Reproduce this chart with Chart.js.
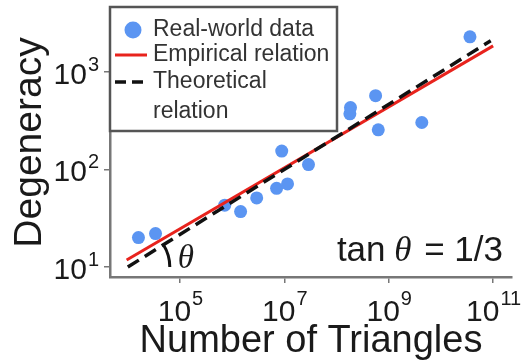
<!DOCTYPE html>
<html>
<head>
<meta charset="utf-8">
<script src="https://cdn.jsdelivr.net/npm/chart.js@4.4.1/dist/chart.umd.min.js"></script>
<style>
  body { margin: 0; background: #fff; }
  #wrap { width: 525px; height: 364px; }
</style>
</head>
<body>
<div id="wrap"><canvas id="chart" width="525" height="364"></canvas></div>
<script>
'use strict';

// values
let triangles = [1.6e4, 3.4e4, 7.2e5, 1.45e6, 2.95e6, 7.1e6, 1.15e7, 8.9e6, 2.9e7, 1.8e8, 1.85e8, 5.6e8, 6.3e8, 4.3e9, 3.6e10];
let degeneracy = [20, 22, 43, 37, 51, 64, 71, 154, 112, 371, 430, 569, 254, 302, 2280];

// endpoints of the two fitted lines
let empiricalX = [9.5e3, 1e11];
let empiricalY = [11.8, 1840];
let theoreticalX = [1e4, 9e10];
let theoreticalY = [10, 2080];

let xTicks = [1e5, 1e7, 1e9, 1e11];
let yTicks = [10, 100, 1000];
let xExp = ['5', '7', '9', '11'];
let yExp = ['1', '2', '3'];

let legendLabels = ['Real-world data', 'Empirical relation', 'Theoretical', 'relation'];

const SANS = '"Liberation Sans", Arial, sans-serif';
const SERIF = '"Liberation Serif", "Times New Roman", serif';
const blue = '#5b95f2';
const red = '#e8231d';

function pairs(xs, ys) {
  let out = [];
  for (let i = 0; i < xs.length; i++) {
    out.push({ x: xs[i], y: ys[i] });
  }
  return out;
}

// tick labels with superscripts
const powerLabels = {
  id: 'powerLabels',
  afterDraw(chart) {
    const ctx = chart.ctx;
    const xs = chart.scales.x;
    const ys = chart.scales.y;
    ctx.save();
    ctx.fillStyle = '#1a1a1a';
    ctx.textBaseline = 'alphabetic';
    for (let i = 0; i < xTicks.length; i++) {
      let px = xs.getPixelForValue(xTicks[i]);
      ctx.font = '30px ' + SANS;
      let w1 = ctx.measureText('10').width;
      ctx.font = '20px ' + SANS;
      let w2 = ctx.measureText(xExp[i]).width;
      let start = px - (w1 + w2) / 2;
      ctx.textAlign = 'left';
      ctx.font = '30px ' + SANS;
      ctx.fillText('10', start, 321);
      ctx.font = '20px ' + SANS;
      ctx.fillText(xExp[i], start + w1 + 1, 305);
    }
    for (let i = 0; i < yTicks.length; i++) {
      let py = ys.getPixelForValue(yTicks[i]);
      ctx.font = '20px ' + SANS;
      let w2 = ctx.measureText(yExp[i]).width;
      let right = 99;
      ctx.textAlign = 'left';
      ctx.fillText(yExp[i], right - w2, py - 1);
      ctx.textAlign = 'right';
      ctx.font = '30px ' + SANS;
      ctx.fillText('10', right - w2 - 1, py + 12);
    }
    ctx.restore();
  }
};

// angle marker and the tan text
const angleNote = {
  id: 'angleNote',
  afterDatasetsDraw(chart) {
    const ctx = chart.ctx;
    const xs = chart.scales.x;
    const ys = chart.scales.y;
    let x0 = xs.getPixelForValue(theoreticalX[0]);
    let y0 = ys.getPixelForValue(theoreticalY[0]);
    let x1 = xs.getPixelForValue(theoreticalX[1]);
    let y1 = ys.getPixelForValue(theoreticalY[1]);
    let ang = Math.atan2(y1 - y0, x1 - x0);
    ctx.save();
    ctx.strokeStyle = '#111';
    ctx.lineWidth = 3;
    ctx.beginPath();
    ctx.arc(x0, y0, 42, ang, 0);
    ctx.stroke();
    ctx.fillStyle = '#1a1a1a';
    ctx.textBaseline = 'alphabetic';
    ctx.textAlign = 'left';
    ctx.font = 'italic 33px ' + SERIF;
    ctx.fillText('\u03b8', x0 + 50, 268);

    // "tan θ = 1/3", right aligned
    ctx.font = '35px ' + SANS;
    let a = 'tan ';
    let c = ' = 1/3';
    let wa = ctx.measureText(a).width;
    let wc = ctx.measureText(c).width;
    ctx.font = 'italic 35px ' + SERIF;
    let wb = ctx.measureText('\u03b8').width;
    let right = 503;
    let sx = right - wa - wb - wc - 2;
    ctx.font = '35px ' + SANS;
    ctx.fillText(a, sx, 261);
    ctx.font = 'italic 35px ' + SERIF;
    ctx.fillText('\u03b8', sx + wa - 1, 261);
    ctx.font = '35px ' + SANS;
    ctx.fillText(c, sx + wa + wb + 2, 261);
    ctx.restore();
  }
};

// boxed legend in the top left corner
const boxLegend = {
  id: 'boxLegend',
  afterDraw(chart) {
    const ctx = chart.ctx;
    const area = chart.chartArea;
    let bx = area.left;
    let by = area.top - 1;
    let bw = 227;
    let bh = 124;
    ctx.save();
    ctx.fillStyle = '#fff';
    ctx.fillRect(bx, by, bw, bh);
    ctx.strokeStyle = '#555';
    ctx.lineWidth = 2.5;
    ctx.strokeRect(bx, by, bw, bh);

    ctx.fillStyle = blue;
    ctx.beginPath();
    ctx.arc(bx + 23, by + 23, 8.5, 0, Math.PI * 2);
    ctx.fill();

    ctx.strokeStyle = red;
    ctx.lineWidth = 3;
    ctx.beginPath();
    ctx.moveTo(bx + 5, by + 48);
    ctx.lineTo(bx + 37, by + 48);
    ctx.stroke();

    ctx.strokeStyle = '#111';
    ctx.lineWidth = 3.5;
    ctx.setLineDash([11, 6]);
    ctx.beginPath();
    ctx.moveTo(bx + 5, by + 75);
    ctx.lineTo(bx + 37, by + 75);
    ctx.stroke();
    ctx.setLineDash([]);

    ctx.fillStyle = '#333';
    ctx.font = '23px ' + SANS;
    ctx.textBaseline = 'middle';
    ctx.textAlign = 'left';
    let rows = [23, 48, 75, 105];
    for (let i = 0; i < legendLabels.length; i++) {
      ctx.fillText(legendLabels[i], bx + 43, by + rows[i]);
    }
    ctx.restore();
  }
};

const ctx = document.getElementById('chart');

new Chart(ctx, {
  type: 'scatter',
  data: {
    datasets: [
      {
        label: 'Real-world data',
        data: pairs(triangles, degeneracy),
        backgroundColor: blue,
        borderWidth: 0,
        pointRadius: 6.5,
        order: 3,
      },
      {
        label: 'Empirical relation',
        type: 'line',
        data: pairs(empiricalX, empiricalY),
        borderColor: red,
        borderWidth: 3,
        pointRadius: 0,
        order: 2,
      },
      {
        label: 'Theoretical relation',
        type: 'line',
        data: pairs(theoreticalX, theoreticalY),
        borderColor: '#111',
        borderWidth: 3.5,
        borderDash: [13, 7],
        pointRadius: 0,
        order: 1,
      },
    ],
  },
  options: {
    responsive: false,
    animation: false,
    devicePixelRatio: 1,
    layout: { padding: { top: 8, right: 13, left: 0, bottom: 0 } },
    plugins: {
      legend: { display: false },
      tooltip: { enabled: false },
    },
    scales: {
      x: {
        type: 'logarithmic',
        min: 4560,
        max: 2.3e11,
        afterBuildTicks: (scale) => { scale.ticks = xTicks.map(v => ({ value: v })); },
        afterFit: (scale) => { scale.height = 87; },
        ticks: { display: false },
        grid: { drawOnChartArea: false, drawTicks: true, tickLength: 6, color: '#777', lineWidth: 1.5 },
        border: { color: '#777', width: 2.5 },
        title: {
          display: true,
          text: 'Number of Triangles',
          color: '#1a1a1a',
          font: { family: SANS, size: 38, lineHeight: 1 },
          padding: { top: 0, bottom: 3 },
        },
      },
      y: {
        type: 'logarithmic',
        min: 7.9,
        max: 4500,
        afterBuildTicks: (scale) => { scale.ticks = yTicks.map(v => ({ value: v })); },
        afterFit: (scale) => { scale.width = 110; },
        ticks: { display: false },
        grid: { drawOnChartArea: false, drawTicks: true, tickLength: 6, color: '#777', lineWidth: 1.5 },
        border: { color: '#777', width: 2.5 },
        title: {
          display: true,
          text: 'Degeneracy',
          color: '#1a1a1a',
          font: { family: SANS, size: 39, lineHeight: 1 },
          padding: { top: 11, bottom: 0 },
        },
      },
    },
  },
  plugins: [angleNote, boxLegend, powerLabels],
});
</script>
</body>
</html>
